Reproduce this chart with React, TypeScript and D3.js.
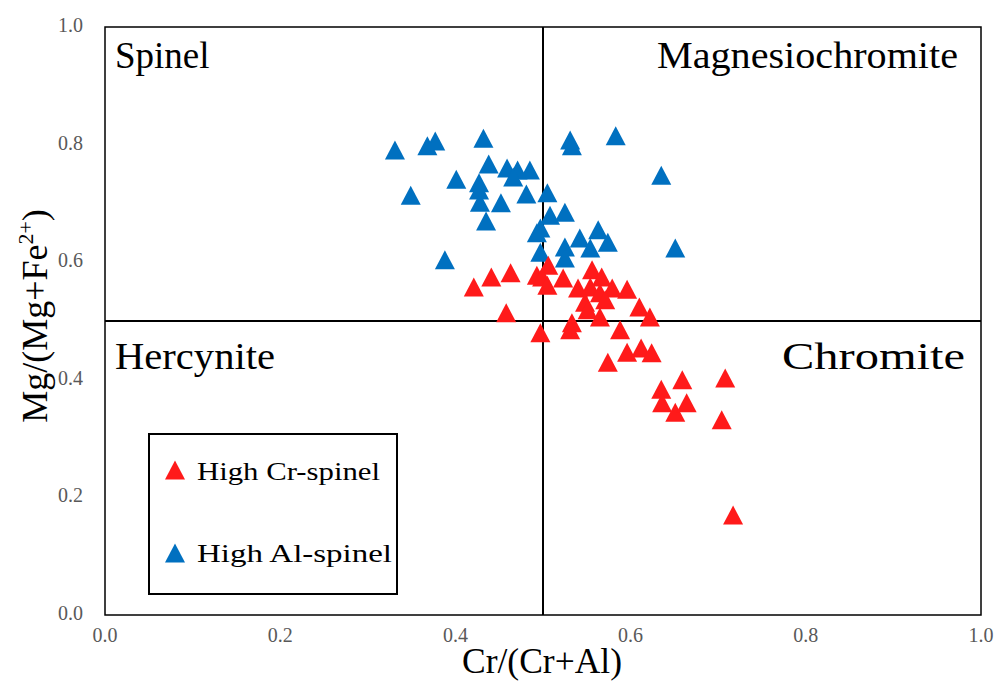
import React from "react";
import * as d3 from "d3";

const xTicks = [0, 0.2, 0.4, 0.6, 0.8, 1.0];
const yTicks = [0, 0.2, 0.4, 0.6, 0.8, 1.0];

const highAlX = [0.331, 0.368, 0.377, 0.432, 0.438, 0.401, 0.459, 0.471, 0.485, 0.466, 0.427, 0.427, 0.349, 0.428, 0.452, 0.481, 0.435, 0.497, 0.531, 0.533, 0.583, 0.635, 0.505, 0.508, 0.525, 0.563, 0.574, 0.542, 0.554, 0.525, 0.525, 0.651, 0.497, 0.388, 0.493];
const highAlY = [0.791, 0.798, 0.806, 0.811, 0.767, 0.741, 0.760, 0.757, 0.757, 0.745, 0.735, 0.723, 0.714, 0.702, 0.701, 0.716, 0.670, 0.658, 0.808, 0.798, 0.815, 0.748, 0.718, 0.680, 0.685, 0.655, 0.634, 0.641, 0.624, 0.626, 0.607, 0.624, 0.617, 0.604, 0.650];

const highCrX = [0.421, 0.441, 0.463, 0.458, 0.493, 0.497, 0.506, 0.499, 0.523, 0.505, 0.540, 0.556, 0.567, 0.554, 0.579, 0.596, 0.565, 0.548, 0.571, 0.551, 0.565, 0.610, 0.622, 0.533, 0.531, 0.588, 0.596, 0.612, 0.624, 0.574, 0.635, 0.659, 0.708, 0.636, 0.651, 0.664, 0.704, 0.717];
const highCrY = [0.558, 0.575, 0.582, 0.514, 0.578, 0.480, 0.595, 0.575, 0.573, 0.561, 0.556, 0.587, 0.575, 0.558, 0.556, 0.554, 0.548, 0.532, 0.536, 0.519, 0.507, 0.524, 0.507, 0.497, 0.485, 0.485, 0.447, 0.454, 0.446, 0.430, 0.384, 0.400, 0.403, 0.361, 0.345, 0.361, 0.332, 0.170];

const regionLabels = ["Spinel", "Magnesiochromite", "Hercynite", "Chromite"];
const seriesNames = ["High Cr-spinel", "High Al-spinel"];
const RED = "#FF1A1A";
const BLUE = "#0070C0";

const W = 1005, H = 691;
const L = 105, R = 981, T = 27, B = 615;

function tri(cx: number, cy: number, w = 20, h = 19) {
  return `M${cx},${cy - h / 2}L${cx + w / 2},${cy + h / 2}L${cx - w / 2},${cy + h / 2}Z`;
}

export default function App() {
  const x = d3.scaleLinear().domain([0, 1]).range([L, R]);
  const y = d3.scaleLinear().domain([0, 1]).range([B, T]);
  const serif = "'Liberation Serif', 'DejaVu Serif', serif";
  const al = highAlX.map((v, i) => [v, highAlY[i]]);
  const cr = highCrX.map((v, i) => [v, highCrY[i]]);
  return (
    <svg width={W} height={H} style={{ position: "absolute", left: 0, top: 0, background: "#fff" }} fontFamily={serif}>
      <rect x={0} y={0} width={W} height={H} fill="#fff" />
      {xTicks.map((t) => (
        <text key={"x" + t} x={x(t)} y={642} textAnchor="middle" fontSize={20} fill="#595959">
          {t.toFixed(1)}
        </text>
      ))}
      {yTicks.map((t) => (
        <text key={"y" + t} x={83} y={y(t) + 5} textAnchor="end" fontSize={20} fill="#595959">
          {t.toFixed(1)}
        </text>
      ))}
      <rect x={L} y={T} width={R - L} height={B - T} fill="none" stroke="#000" strokeWidth={1.5} />
      <line x1={x(0.5)} x2={x(0.5)} y1={T} y2={B} stroke="#000" strokeWidth={2} />
      <line x1={L} x2={R} y1={y(0.5)} y2={y(0.5)} stroke="#000" strokeWidth={2} />
      {al.map((p, i) => (
        <path key={"a" + i} d={tri(x(p[0]), y(p[1]))} fill={BLUE} />
      ))}
      {cr.map((p, i) => (
        <path key={"c" + i} d={tri(x(p[0]), y(p[1]))} fill={RED} />
      ))}
      <text x={115} y={68} fontSize={37} fill="#000">{regionLabels[0]}</text>
      <text x={958} y={68} fontSize={37} fill="#000" textAnchor="end" textLength={301} lengthAdjust="spacingAndGlyphs">{regionLabels[1]}</text>
      <text x={115} y={369} fontSize={37} fill="#000" textLength={160} lengthAdjust="spacingAndGlyphs">{regionLabels[2]}</text>
      <text x={965} y={369} fontSize={37} fill="#000" textAnchor="end" textLength={183} lengthAdjust="spacingAndGlyphs">{regionLabels[3]}</text>
      <rect x={149} y={434} width={248} height={160} fill="#fff" stroke="#000" strokeWidth={2} />
      <path d={tri(175, 470)} fill={RED} />
      <text x={197} y={480} fontSize={25} fill="#000" textLength={183} lengthAdjust="spacingAndGlyphs">{seriesNames[0]}</text>
      <path d={tri(175, 553)} fill={BLUE} />
      <text x={197} y={562} fontSize={25} fill="#000" textLength={195} lengthAdjust="spacingAndGlyphs">{seriesNames[1]}</text>
      <text x={542} y={673} fontSize={35} textAnchor="middle" fill="#000" textLength={160} lengthAdjust="spacingAndGlyphs">Cr/(Cr+Al)</text>
      <text transform={`translate(47,${y(0.5) - 5}) rotate(-90)`} fontSize={36} textAnchor="middle" fill="#000">
        Mg/(Mg+Fe<tspan fontSize={22} dy={-14}>2+</tspan><tspan dy={14}>)</tspan>
      </text>
    </svg>
  );
}
